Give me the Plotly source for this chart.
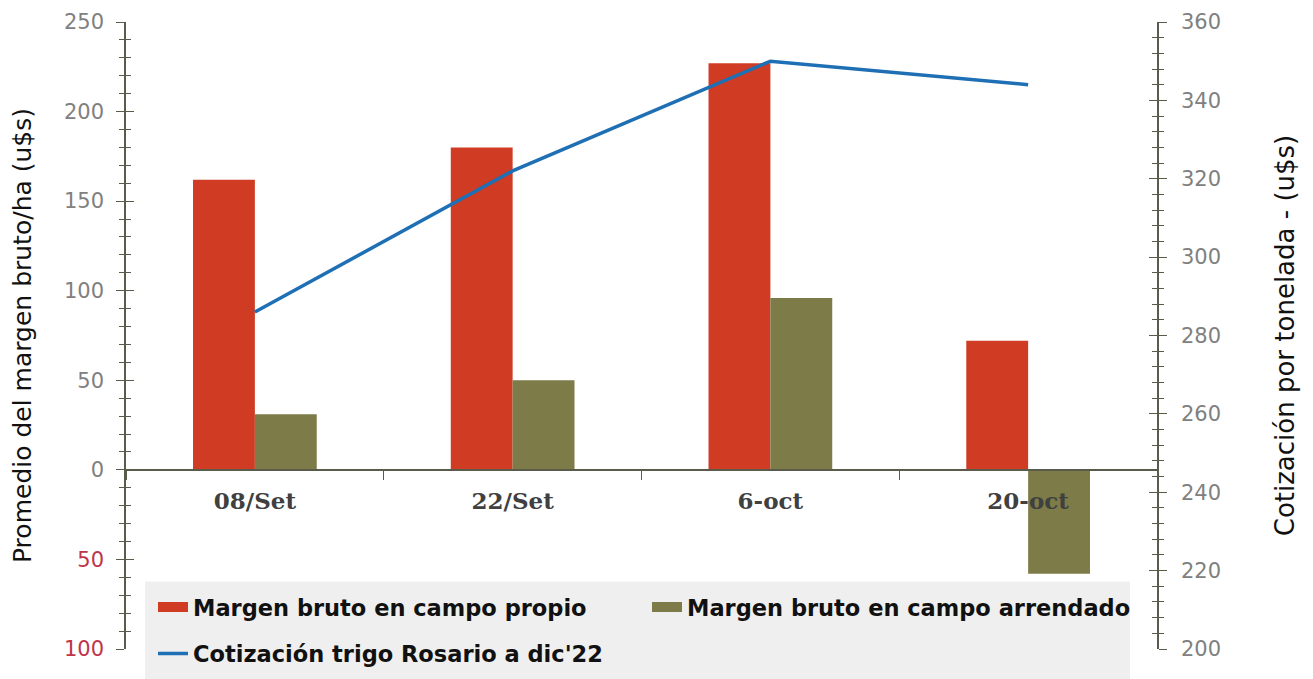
import plotly.graph_objects as go

categories = ["08/Set", "22/Set", "6-oct", "20-oct"]
propio = [162, 180, 227, 72]
arrendado = [31, 50, 96, -58]
cotizacion = [286, 322, 350, 344]

left_tickvals = [250, 200, 150, 100, 50, 0, -50, -100]
left_ticktext = ["250", "200", "150", "100", "50", "0",
                 "<span style='color:#C0344A'>50</span>",
                 "<span style='color:#C0344A'>100</span>"]
right_tickvals = [360, 340, 320, 300, 280, 260, 240, 220, 200]

RED = "#D03B23"
OLIVE = "#7D7B48"
BLUE = "#1F6FB5"
AX = "#5b5b4b"
TICKFONT = dict(family="DejaVu Sans", size=21, color="#808080")
LEGFONT = dict(family="DejaVu Sans", size=22.5, color="#111111", weight="bold")

fig = go.Figure()
fig.add_trace(go.Bar(x=categories, y=propio, name="Margen bruto en campo propio",
                     marker=dict(color=RED, line=dict(width=0)), yaxis="y", showlegend=False))
fig.add_trace(go.Bar(x=categories, y=arrendado, name="Margen bruto en campo arrendado",
                     marker=dict(color=OLIVE, line=dict(width=0)), yaxis="y", showlegend=False))
fig.add_trace(go.Scatter(x=categories, y=cotizacion, name="Cotización trigo Rosario a dic'22",
                         mode="lines", line=dict(color=BLUE, width=3.5), yaxis="y2",
                         legend="legend2"))

# legend swatches (wide rectangles like the original)
fig.add_trace(go.Scatter(x=[categories[0]], y=[None], mode="lines", name="Margen bruto en campo propio",
                         line=dict(color=RED, width=12), hoverinfo="skip", legend="legend"))
fig.add_trace(go.Scatter(x=[categories[0]], y=[None], mode="lines", name="Margen bruto en campo arrendado",
                         line=dict(color=OLIVE, width=12), hoverinfo="skip", legend="legend"))

# plot area: x 126..1157, y 22..653 (page has an 8px body margin)
LEGX = (153 - 126) / 1031
fig.update_layout(
    width=1313, height=679,
    margin=dict(l=118, r=164, t=14, b=34),
    paper_bgcolor="white", plot_bgcolor="white",
    barmode="group", bargap=0.52, bargroupgap=0,
    showlegend=True,
    legend=dict(orientation="h", x=LEGX, xanchor="left", y=(653 - 611) / 631, yanchor="middle",
                bgcolor="rgba(0,0,0,0)", font=LEGFONT,
                entrywidth=449, entrywidthmode="pixels", traceorder="normal", borderwidth=0),
    legend2=dict(orientation="h", x=LEGX, xanchor="left", y=(653 - 658) / 631, yanchor="middle",
                 bgcolor="rgba(0,0,0,0)", font=LEGFONT, borderwidth=0),
    shapes=[dict(type="rect", xref="paper", yref="paper",
                 x0=(145 - 126) / 1031, x1=(1130 - 126) / 1031,
                 y0=(653 - 690) / 631, y1=(653 - 585) / 631,
                 fillcolor="#EFEFEF", line=dict(width=0), layer="above")],
    xaxis=dict(anchor="free", position=(0 - (-100)) / 350, showgrid=False,
               showline=True, linecolor=AX, linewidth=1.5,
               ticks="outside", ticklen=9, tickcolor=AX, tickson="boundaries",
               ticklabelstandoff=11, automargin=False,
               tickfont=dict(family="DejaVu Serif", size=23, color="#404040", weight="bold"),
               zeroline=False, fixedrange=True),
    yaxis=dict(range=[-100, 250], tickvals=left_tickvals, ticktext=left_ticktext,
               showgrid=False, zeroline=False, showline=True, linecolor=AX, linewidth=1.5,
               ticks="outside", ticklen=8, tickcolor=AX, automargin=False,
               minor=dict(dtick=10, ticks="outside", ticklen=5, tickcolor=AX),
               tickfont=TICKFONT, ticklabelstandoff=8,
               title=dict(text="Promedio del margen bruto/ha (u$s)",
                          font=dict(family="DejaVu Sans", size=25, color="#111111"),
                          standoff=28)),
    yaxis2=dict(range=[200, 360], tickvals=right_tickvals, overlaying="y", side="right",
                showgrid=False, zeroline=False, showline=True, linecolor=AX, linewidth=1.5,
                ticks="outside", ticklen=8, tickcolor=AX, automargin=False,
                minor=dict(dtick=4, ticks="outside", ticklen=5, tickcolor=AX),
                tickfont=TICKFONT, ticklabelstandoff=10,
                title=dict(text="Cotización por tonelada - (u$s)",
                           font=dict(family="DejaVu Sans", size=26, color="#111111"),
                           standoff=56)),
    yaxis3=dict(range=[-100, 250], overlaying="y", side="left", anchor="x",
                tickvals=left_tickvals, showticklabels=False, showgrid=False, zeroline=False,
                ticks="inside", ticklen=8, tickcolor=AX, automargin=False,
                minor=dict(dtick=10, ticks="inside", ticklen=5, tickcolor=AX)),
    yaxis4=dict(range=[200, 360], overlaying="y", side="right", anchor="x",
                tickvals=right_tickvals, showticklabels=False, showgrid=False, zeroline=False,
                ticks="inside", ticklen=8, tickcolor=AX, automargin=False,
                minor=dict(dtick=4, ticks="inside", ticklen=5, tickcolor=AX)),
)

# invisible traces so the tick-only axes are drawn
fig.add_trace(go.Scatter(x=[categories[0]], y=[None], yaxis="y3", showlegend=False, hoverinfo="skip"))
fig.add_trace(go.Scatter(x=[categories[0]], y=[None], yaxis="y4", showlegend=False, hoverinfo="skip"))

fig.write_html("out.html")
